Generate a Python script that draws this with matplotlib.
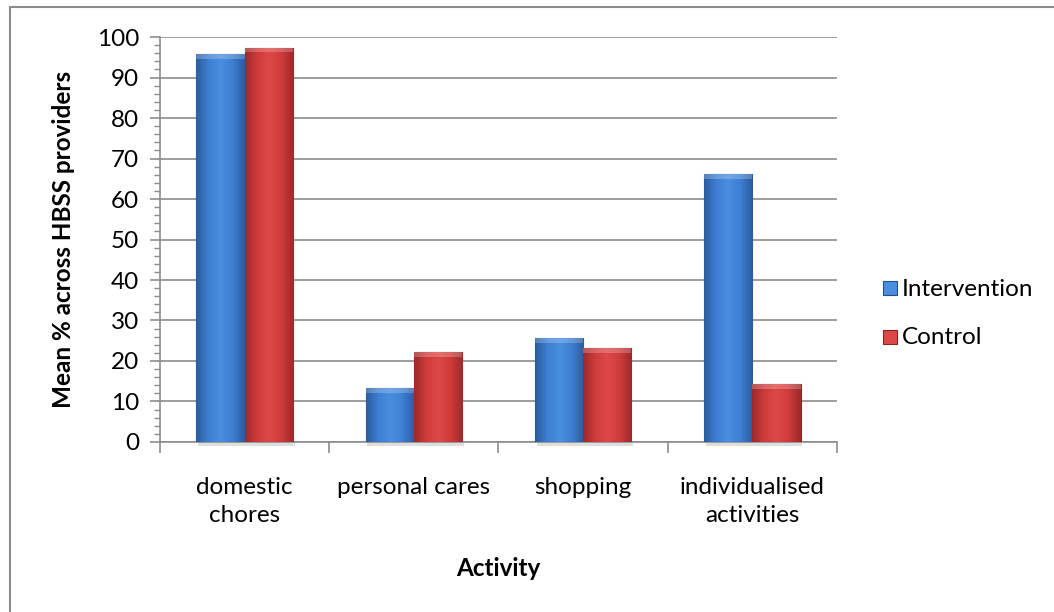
import numpy as np
import matplotlib.pyplot as plt
from matplotlib.colors import LinearSegmentedColormap
from matplotlib.patches import Rectangle

plt.rcParams['font.family'] = ['Lato', 'DejaVu Sans']

categories = ['domestic\nchores', 'personal cares', 'shopping', 'individualised\nactivities']
intervention = [95.8, 13.3, 25.7, 66.2]
control = [97.4, 22.3, 23.2, 14.3]
series_names = ['Intervention', 'Control']

blue_cmap = LinearSegmentedColormap.from_list(
    'blue_bevel', ['#2b5c9c', '#3d7fd2', '#4a8ee0', '#3d7fd2', '#2b5c9c'])
red_cmap = LinearSegmentedColormap.from_list(
    'red_bevel', ['#9a2a2a', '#cf3b3b', '#dd4848', '#cf3b3b', '#9a2a2a'])

fs = 17.5

fig = plt.figure(figsize=(10.54, 6.12), dpi=100)
ax = fig.add_axes([0.1518, 0.2778, 0.6423, 0.6617])

# outer chart frame (clipped at the right and bottom)
fig.patches.append(Rectangle((10 / 1054, -0.1), 1.2, 1 - 7 / 612 + 0.1,
                             transform=fig.transFigure, fill=False,
                             edgecolor='#8c8c8c', linewidth=1.5))

x = np.arange(len(categories))
w = 0.285
grad = np.linspace(0, 1, 256).reshape(1, -1)

def bevel_bars(xpos, vals, cmap, edge):
    bars = ax.bar(xpos, vals, w, color=cmap(0.5), edgecolor=edge,
                  linewidth=0.8, zorder=3)
    for b in bars:
        x0, y0 = b.get_x(), b.get_y()
        bw, bh = b.get_width(), b.get_height()
        im = ax.imshow(grad, cmap=cmap, aspect='auto', zorder=3.5,
                       extent=[x0, x0 + bw, y0, y0 + bh], interpolation='bicubic')
        im.set_clip_path(b)
        # light top bevel
        ax.add_patch(Rectangle((x0, y0 + bh - 1.2), bw, 1.2, facecolor='white',
                               alpha=0.22, edgecolor='none', zorder=4))
        # soft shadow under the bar
        ax.add_patch(Rectangle((x0 + 0.01, y0 - 0.9), bw, 0.9, facecolor='#bfbfbf',
                               alpha=0.5, edgecolor='none', zorder=2,
                               clip_on=False))
    return bars

b1 = bevel_bars(x - w / 2, intervention, blue_cmap, '#244f88')
b2 = bevel_bars(x + w / 2, control, red_cmap, '#8a2525')

ax.set_xlim(-0.5, len(categories) - 0.5)
ax.set_ylim(0, 100)
ax.set_yticks(np.arange(0, 101, 10))
ax.set_yticks(np.arange(0, 101, 2), minor=True)
ax.set_xticks(np.arange(-0.5, len(categories), 1.0))
ax.set_xticklabels([])
ax.set_xticks(x, minor=True)
ax.set_xticklabels(categories, minor=True, fontsize=fs, linespacing=1.45)

ax.grid(axis='y', which='major', color='#8c8c8c', linewidth=1.2, zorder=0)
ax.set_axisbelow(True)
for s in ['top', 'right']:
    ax.spines[s].set_visible(False)
for s in ['left', 'bottom']:
    ax.spines[s].set_color('#8c8c8c')
    ax.spines[s].set_linewidth(1.2)

ax.tick_params(axis='y', which='major', length=7, width=1.2, color='#8c8c8c',
               labelsize=fs, pad=8)
ax.tick_params(axis='y', which='minor', length=4, width=1, color='#8c8c8c')
ax.tick_params(axis='x', which='major', length=8, width=1.2, color='#8c8c8c')
ax.tick_params(axis='x', which='minor', length=0, pad=25)

ax.set_ylabel('Mean % across HBSS providers', fontsize=fs, fontweight='bold',
              labelpad=16)
ax.set_xlabel('Activity', fontsize=fs, fontweight='bold', labelpad=22)

# legend with bevel swatches
for i, (name, cmap, edge) in enumerate(zip(series_names, [blue_cmap, red_cmap],
                                          ['#244f88', '#8a2525'])):
    ly = 1 - (289 + i * 48) / 612
    fig.patches.append(Rectangle((883 / 1054, ly - 6.5 / 612), 14 / 1054, 14 / 612,
                                 transform=fig.transFigure, facecolor=cmap(0.5),
                                 edgecolor=edge, linewidth=0.8))
    fig.text(902 / 1054, ly, name, fontsize=fs, va='center', ha='left')

fig.savefig('out.png', dpi=100)
